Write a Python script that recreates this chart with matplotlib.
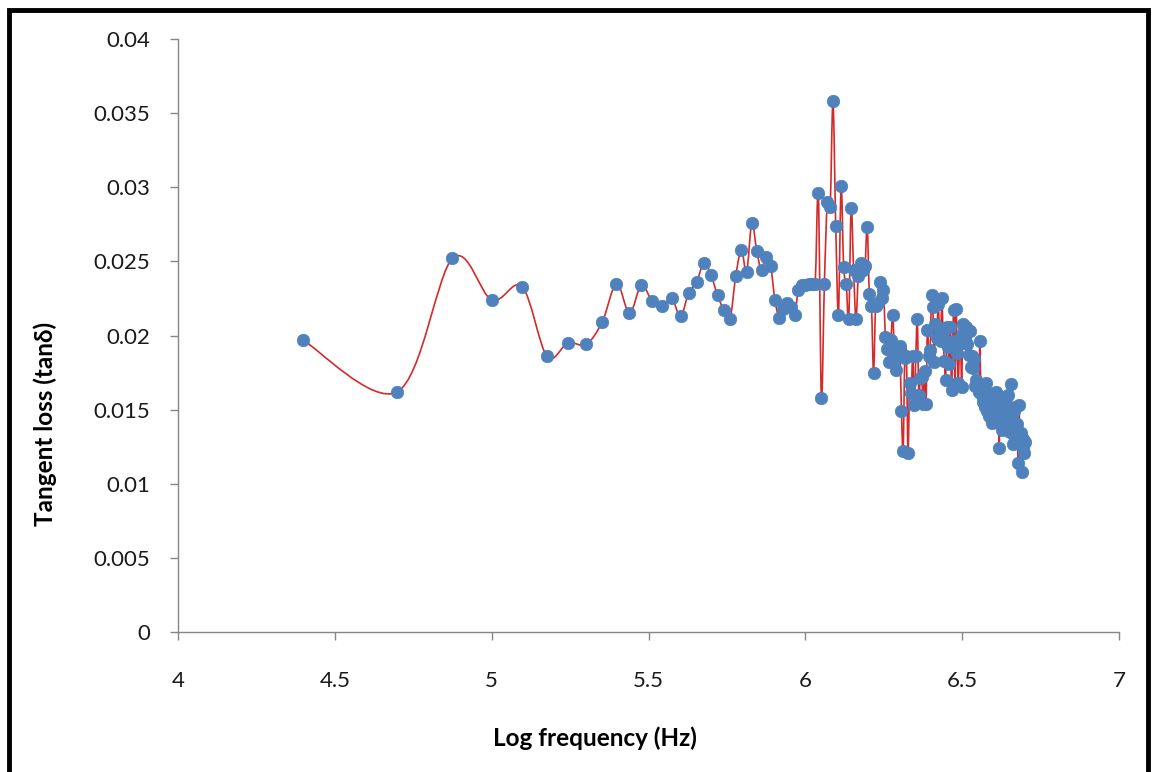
import numpy as np
import matplotlib
matplotlib.use("Agg")
import matplotlib.pyplot as plt
from matplotlib.path import Path
from matplotlib.patches import PathPatch, Rectangle

plt.rcParams['font.family'] = ['Lato', 'DejaVu Sans']

# Frequency sweep: 25 kHz to 5 MHz in 25 kHz steps
freq_hz = np.arange(25_000, 5_000_001, 25_000)

# Measured loss tangent at each sweep frequency
tan_delta = [
    0.0197, 0.0162, 0.0252, 0.0224, 0.0233, 0.0186, 0.0195, 0.0194, 0.0209, 0.0235,
    0.0215, 0.0234, 0.0223, 0.0220, 0.0225, 0.0213, 0.0229, 0.0236, 0.0249, 0.0241,
    0.0227, 0.0217, 0.0211, 0.0240, 0.0258, 0.0243, 0.0276, 0.0257, 0.0244, 0.0253,
    0.0247, 0.0224, 0.0212, 0.0218, 0.0222, 0.0219, 0.0214, 0.0231, 0.0234, 0.0234,
    0.0235, 0.0235, 0.0235, 0.0296, 0.0158, 0.0235, 0.0290, 0.0287, 0.0358, 0.0274,
    0.0214, 0.0301, 0.0246, 0.0235, 0.0211, 0.0286, 0.0244, 0.0211, 0.0240, 0.0249,
    0.0244, 0.0247, 0.0273, 0.0228, 0.0220, 0.0175, 0.0220, 0.0222, 0.0236, 0.0225,
    0.0231, 0.0199, 0.0191, 0.0182, 0.0197, 0.0214, 0.0184, 0.0177, 0.0188, 0.0193,
    0.0149, 0.0122, 0.0185, 0.0186, 0.0121, 0.0168, 0.0161, 0.0186, 0.0153, 0.0186,
    0.0211, 0.0160, 0.0171, 0.0172, 0.0154, 0.0176, 0.0154, 0.0204, 0.0186, 0.0190,
    0.0227, 0.0219, 0.0182, 0.0208, 0.0198, 0.0221, 0.0205, 0.0196, 0.0225, 0.0198,
    0.0183, 0.0170, 0.0206, 0.0192, 0.0181, 0.0206, 0.0163, 0.0196, 0.0217, 0.0167,
    0.0218, 0.0188, 0.0168, 0.0195, 0.0200, 0.0165, 0.0208, 0.0203, 0.0198, 0.0206,
    0.0194, 0.0204, 0.0187, 0.0203, 0.0179, 0.0186, 0.0178, 0.0184, 0.0166, 0.0170,
    0.0165, 0.0168, 0.0162, 0.0196, 0.0165, 0.0160, 0.0155, 0.0163, 0.0158, 0.0152,
    0.0168, 0.0149, 0.0161, 0.0146, 0.0154, 0.0160, 0.0141, 0.0158, 0.0152, 0.0156,
    0.0152, 0.0162, 0.0148, 0.0158, 0.0160, 0.0124, 0.0152, 0.0142, 0.0154, 0.0136,
    0.0150, 0.0138, 0.0153, 0.0146, 0.0158, 0.0140, 0.0160, 0.0136, 0.0150, 0.0135,
    0.0167, 0.0137, 0.0146, 0.0127, 0.0149, 0.0130, 0.0152, 0.0133, 0.0140, 0.0129,
    0.0114, 0.0153, 0.0132, 0.0127, 0.0134, 0.0108, 0.0125, 0.0130, 0.0121, 0.0128,
]

x_ticks = [4, 4.5, 5, 5.5, 6, 6.5, 7]
x_tick_labels = ['4', '4.5', '5', '5.5', '6', '6.5', '7']
y_ticks = [0, 0.005, 0.01, 0.015, 0.02, 0.025, 0.03, 0.035, 0.04]
y_tick_labels = ['0', '0.005', '0.01', '0.015', '0.02', '0.025', '0.03', '0.035', '0.04']

log_f = np.log10(freq_hz)
tan_delta = np.asarray(tan_delta)

AXIS_GREY = '#868686'
LINE_RED = '#D42A2A'
MARKER_BLUE = '#4F81BD'

fig = plt.figure(figsize=(11.52, 7.72), dpi=100)
ax = fig.add_axes([178 / 1152, 1 - 632 / 772, (1119 - 178) / 1152, (632 - 39) / 772])


def smooth_path(xs, ys):
    """Cubic Bezier curve through every point (Catmull-Rom style smoothing)."""
    pts = np.column_stack([xs, ys])
    n = len(pts)
    verts = [pts[0]]
    codes = [Path.MOVETO]
    for i in range(n - 1):
        p0 = pts[i - 1] if i > 0 else pts[i]
        p1 = pts[i]
        p2 = pts[i + 1]
        p3 = pts[i + 2] if i + 2 < n else pts[i + 1]
        c1 = p1 + (p2 - p0) / 6.0
        c2 = p2 - (p3 - p1) / 6.0
        verts += [c1, c2, p2]
        codes += [Path.CURVE4] * 3
    return Path(verts, codes)


ax.add_patch(PathPatch(smooth_path(log_f, tan_delta), fill=False,
                       edgecolor=LINE_RED, lw=1.2, zorder=2))
ax.plot(log_f, tan_delta, linestyle='none', marker='o', markersize=9.0,
        markerfacecolor=MARKER_BLUE, markeredgecolor=MARKER_BLUE,
        markeredgewidth=0.5, zorder=3)

ax.set_xlim(4, 7)
ax.set_ylim(0, 0.04)
ax.set_xticks(x_ticks)
ax.set_xticklabels(x_tick_labels)
ax.set_yticks(y_ticks)
ax.set_yticklabels(y_tick_labels)

for side in ('top', 'right'):
    ax.spines[side].set_visible(False)
for side in ('left', 'bottom'):
    ax.spines[side].set_color(AXIS_GREY)
    ax.spines[side].set_linewidth(1.0)

ax.tick_params(axis='both', direction='out', length=6, width=1.0,
               color=AXIS_GREY, labelsize=16, labelcolor='#1a1a1a')
ax.tick_params(axis='x', pad=22)
ax.tick_params(axis='y', pad=14)

fig.text(595 / 1152, 1 - 738 / 772, 'Log frequency (Hz)', ha='center', va='center',
         fontsize=17.5, fontweight='bold', color='black')
fig.text(45 / 1152, 1 - 424 / 772, 'Tangent loss (tanδ)', ha='center', va='center',
         rotation=90, fontsize=17.5, fontweight='bold', color='black')

# Black frame around the chart
fig.patches.append(Rectangle((9 / 1152, -0.05), (1148 - 9) / 1152, 1.05 - 10 / 772,
                             transform=fig.transFigure, fill=False,
                             edgecolor='black', lw=3.5, zorder=10))

fig.savefig('out.png', dpi=100)
